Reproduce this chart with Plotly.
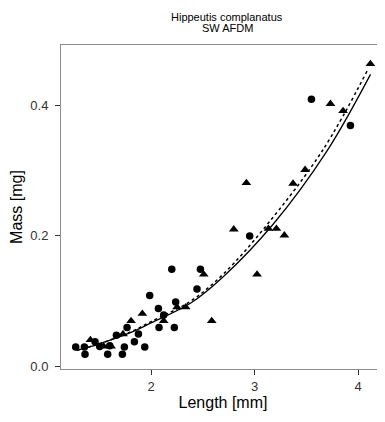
import plotly.graph_objects as go

# Observations: circles
circ_x = [1.272, 1.356, 1.362, 1.459, 1.504, 1.581, 1.601, 1.665, 1.723, 1.742, 1.768, 1.839, 1.878,
          1.939, 1.987, 2.071, 2.077, 2.122, 2.200, 2.225, 2.238, 2.444, 2.477, 2.953, 3.549, 3.926]
circ_y = [0.030, 0.030, 0.019, 0.038, 0.031, 0.019, 0.032, 0.048, 0.019, 0.030, 0.060, 0.038, 0.050,
          0.030, 0.109, 0.089, 0.060, 0.079, 0.149, 0.060, 0.099, 0.119, 0.149, 0.200, 0.409, 0.369]

# Observations: triangles
tri_x = [1.414, 1.543, 1.614, 1.729, 1.807, 1.916, 2.122, 2.251, 2.335, 2.509, 2.586, 2.799, 2.921,
         3.024, 3.134, 3.211, 3.288, 3.372, 3.488, 3.733, 3.855, 4.119]
tri_y = [0.041, 0.031, 0.031, 0.050, 0.070, 0.081, 0.070, 0.091, 0.091, 0.141, 0.070, 0.210, 0.281,
         0.141, 0.211, 0.211, 0.201, 0.280, 0.301, 0.402, 0.391, 0.463]

# Fitted curves
solid_x = [1.28, 1.5, 1.8, 2.0, 2.38, 2.7, 3.175, 3.7, 4.12]
solid_y = [0.025, 0.035, 0.052, 0.067, 0.097, 0.138, 0.217, 0.330, 0.447]
dot_x = [1.28, 1.5, 1.8, 2.0, 2.38, 2.7, 3.12, 3.658, 4.10]
dot_y = [0.025, 0.035, 0.053, 0.069, 0.100, 0.142, 0.217, 0.331, 0.456]

x_ticks = [2, 3, 4]
y_ticks = [0.0, 0.2, 0.4]
title_lines = ["Hippeutis complanatus", "SW AFDM"]

fig = go.Figure()
fig.add_trace(go.Scatter(x=solid_x, y=solid_y, mode="lines", line=dict(color="black", width=1.3, shape="spline")))
fig.add_trace(go.Scatter(x=dot_x, y=dot_y, mode="lines", line=dict(color="black", width=1.5, dash="dot", shape="spline")))
fig.add_trace(go.Scatter(x=circ_x, y=circ_y, mode="markers",
                         marker=dict(symbol="circle", size=7.5, color="black")))
fig.add_trace(go.Scatter(x=tri_x, y=tri_y, mode="markers",
                         marker=dict(symbol="triangle-up", size=8.5, color="black")))

fig.update_layout(
    width=377, height=414,
    margin=dict(l=53, r=0, t=37, b=53, autoexpand=False),
    paper_bgcolor="white", plot_bgcolor="white",
    showlegend=False,
    font=dict(family="Liberation Sans, Arial, sans-serif", color="black"),
    annotations=[
        dict(text=title_lines[0], xref="paper", yref="paper", x=0.513, y=1.0864,
             xanchor="center", yanchor="middle", showarrow=False, font=dict(size=11, color="black")),
        dict(text=title_lines[1], xref="paper", yref="paper", x=0.513, y=1.0525,
             xanchor="center", yanchor="middle", showarrow=False, font=dict(size=11, color="black")),
    ],
)
fig.update_xaxes(range=[1.13, 4.26], tickvals=x_ticks, ticktext=[str(v) for v in x_ticks],
                 automargin=False,
                 showgrid=False, zeroline=False, showline=True, mirror=True,
                 linecolor="#8c8c8c", linewidth=1, ticks="outside", ticklen=5, tickcolor="#333",
                 tickfont=dict(size=13, color="#333"),
                 title=dict(text="Length [mm]", font=dict(size=16), standoff=2))
fig.update_yaxes(range=[-0.0035, 0.4919], tickvals=y_ticks, ticktext=["%.1f" % v for v in y_ticks],
                 automargin=False,
                 showgrid=False, zeroline=False, showline=True, mirror=True,
                 linecolor="#8c8c8c", linewidth=1, ticks="outside", ticklen=5, tickcolor="#333",
                 ticklabelstandoff=4,
                 tickfont=dict(size=13, color="#333"),
                 title=dict(text="Mass [mg]", font=dict(size=16), standoff=6))

fig.write_html("out.html")
